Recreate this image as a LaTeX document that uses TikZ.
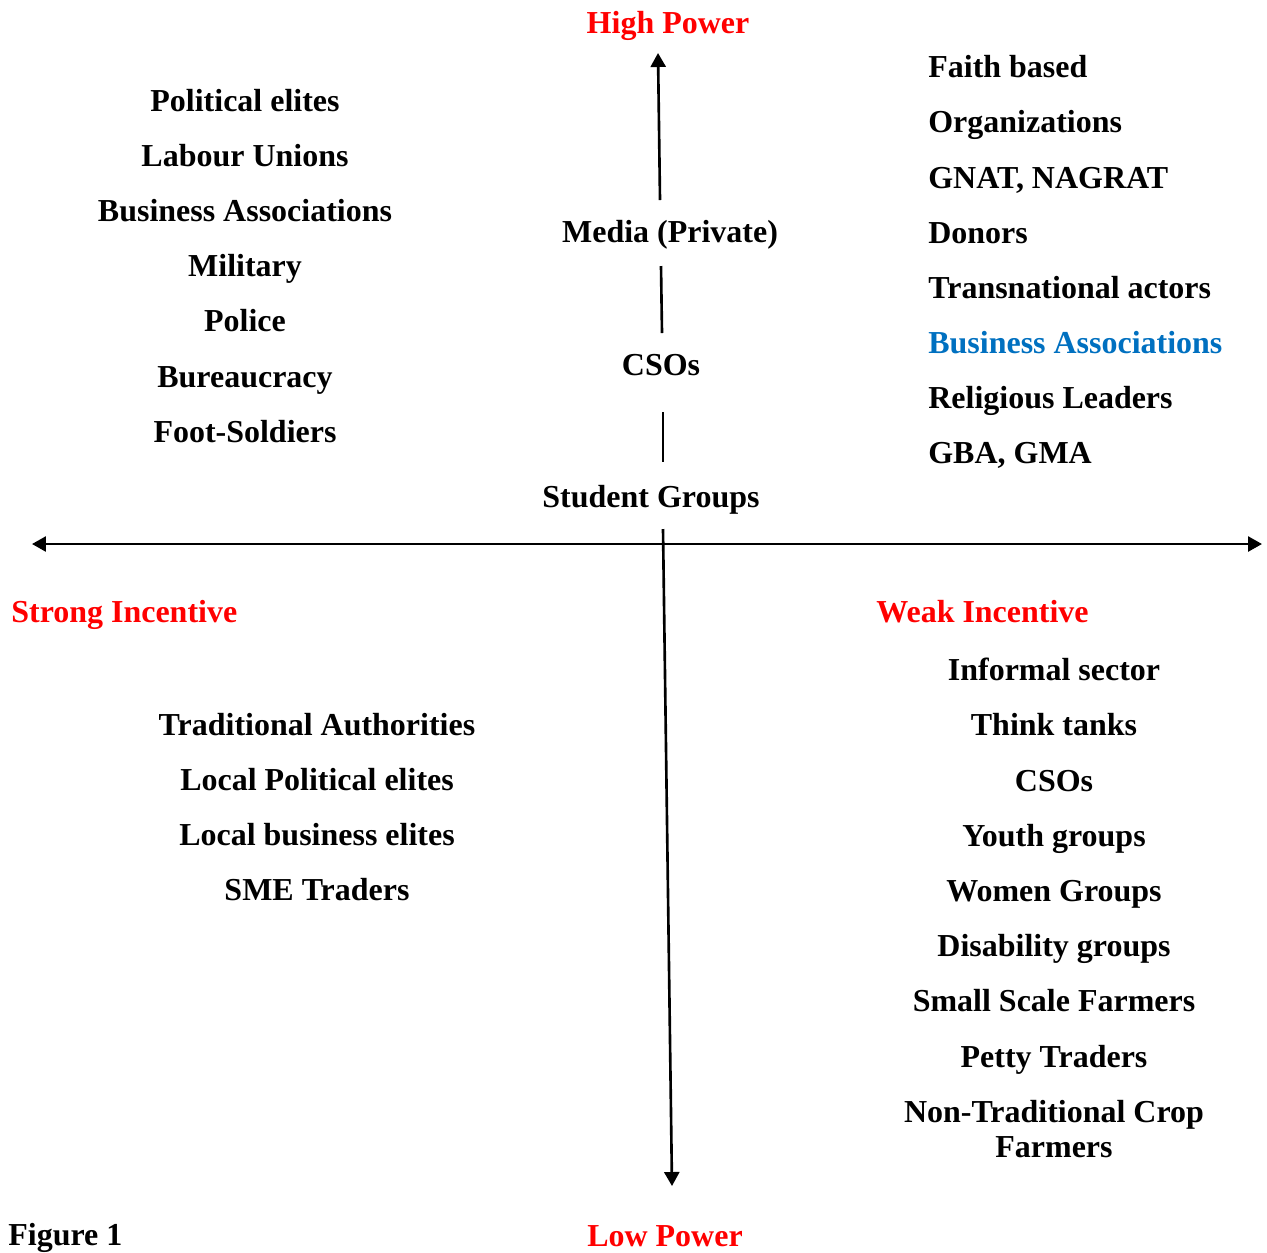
\documentclass[tikz,border=0pt]{standalone}
\usepackage{fontspec}
\setmainfont{Liberation Serif}
\usetikzlibrary{arrows.meta}
\definecolor{wordblue}{RGB}{0,112,192}
\tikzset{
    every node/.style={inner sep=0pt, anchor=base,
        font=\fontsize{18.2}{20}\selectfont\bfseries}
}
\tikzset{
    axis/.style={line width=1.5pt},
    tip/.style={-{Triangle[length=2.8mm,width=3mm]}},
    head/.style={text=red}
}

\begin{document}
\begin{tikzpicture}[x=0.02cm, y=-0.02cm]
  \useasboundingbox (0,0) rectangle (1267,1252);

  % axis labels
  \node (hi) [head] at (668, 33) {High Power};
  \node (lo) [head] at (665, 1246) {Low Power};
  \node (si) [head, anchor=base west] at (11, 622) {Strong Incentive};
  \node (wi) [head, anchor=base west] at (876, 622) {Weak Incentive};
  \node (fig) [anchor=base west] at (8, 1245) {Figure 1};

  % top left
  \node (l1) at (245, 111) {Political elites};
  \node (l2) at (245, 166) {Labour Unions};
  \node (l3) at (245, 221) {Business Associations};
  \node (l4) at (245, 276) {Military};
  \node (l5) at (245, 331) {Police};
  \node (l6) at (245, 387) {Bureaucracy};
  \node (l7) at (245, 442) {Foot-Soldiers};

  % middle
  \node (m1) at (670, 242) {Media (Private)};
  \node (m2) at (661, 375) {CSOs};
  \node (m3) at (651, 507) {Student Groups};

  % top right
  \node (r1) [anchor=base west] at (928, 77) {Faith based};
  \node (r2) [anchor=base west] at (928, 132) {Organizations};
  \node (r3) [anchor=base west] at (928, 188) {GNAT, NAGRAT};
  \node (r4) [anchor=base west] at (928, 243) {Donors};
  \node (r5) [anchor=base west] at (928, 298) {Transnational actors};
  \node (r6) [anchor=base west, text=wordblue] at (928, 353) {Business Associations};
  \node (r7) [anchor=base west] at (928, 408) {Religious Leaders};
  \node (r8) [anchor=base west] at (928, 463) {GBA, GMA};

  % bottom left
  \node (b1) at (317, 735) {Traditional Authorities};
  \node (b2) at (317, 790) {Local Political elites};
  \node (b3) at (317, 845) {Local business elites};
  \node (b4) at (317, 900) {SME Traders};

  % bottom right
  \node (c1) at (1054, 680) {Informal sector};
  \node (c2) at (1054, 735) {Think tanks};
  \node (c3) at (1054, 791) {CSOs};
  \node (c4) at (1054, 846) {Youth groups};
  \node (c5) at (1054, 901) {Women Groups};
  \node (c6) at (1054, 956) {Disability groups};
  \node (c7) at (1054, 1011) {Small Scale Farmers};
  \node (c8) at (1054, 1067) {Petty Traders};
  \node (c9) [anchor=center, align=center] at (1054, 1129) {Non-Traditional Crop\\Farmers};

  % line ends
  \coordinate (west) at (32, 544);
  \coordinate (east) at (1262, 544);
  \coordinate (top) at (658, 53);
  \coordinate (a1) at (660, 200);
  \coordinate (a2) at (661, 266);
  \coordinate (a3) at (662, 333);
  \coordinate (a4) at (663, 412);
  \coordinate (a5) at (663, 462);
  \coordinate (a6) at (663, 529);
  \coordinate (bot) at (672, 1186);

  \draw [axis, {Triangle[length=2.8mm,width=3mm]}-{Triangle[length=2.8mm,width=3mm]}] (west) -- (east);
  \draw [axis, tip] (a1) -- (top);
  \draw [axis] (a2) -- (a3);
  \draw [axis] (a4) -- (a5);
  \draw [axis, tip] (a6) -- (bot);
\end{tikzpicture}
\end{document}
